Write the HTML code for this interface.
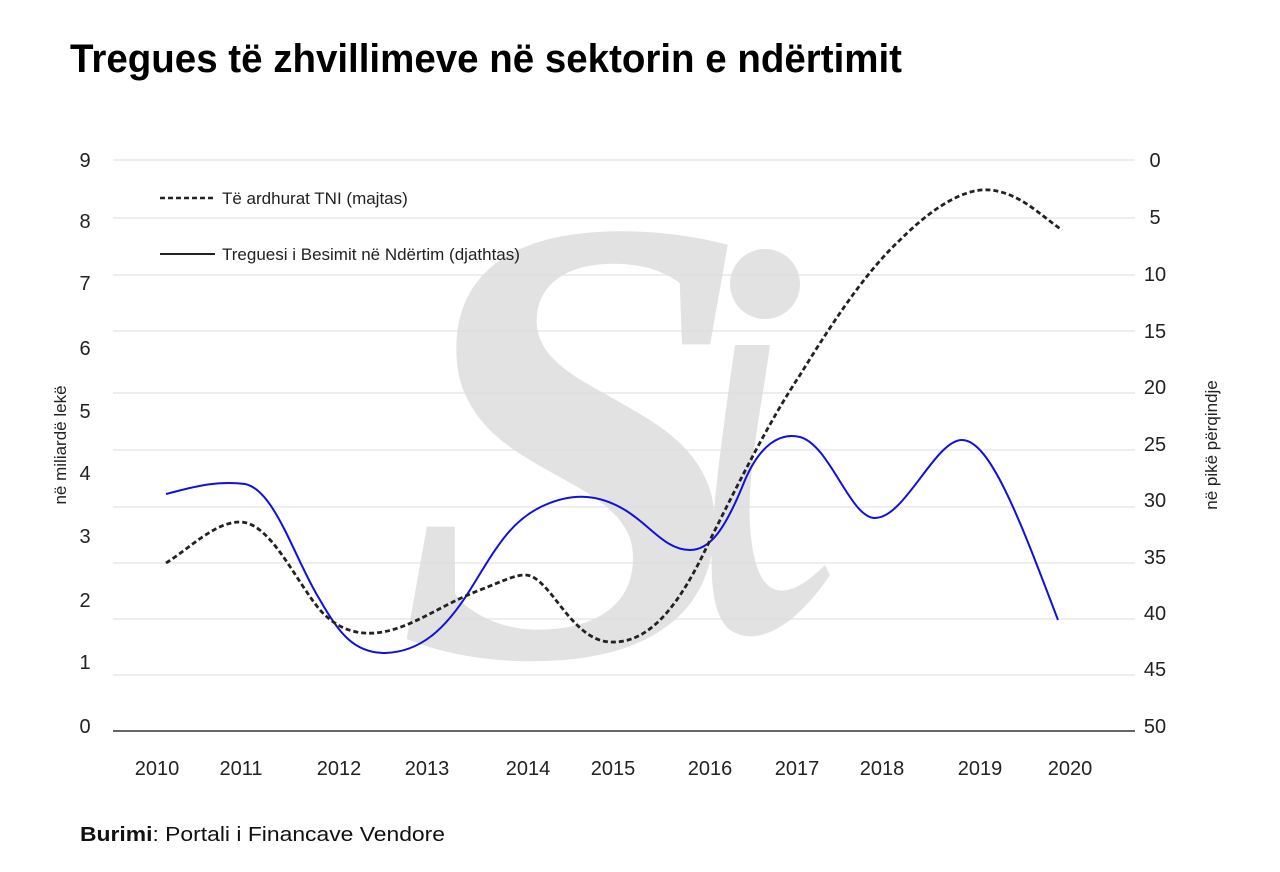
<!DOCTYPE html>
<html><head><meta charset="utf-8"><style>
html,body{margin:0;padding:0;background:#fff;}
svg{display:block;font-family:"Liberation Sans",sans-serif;}
</style></head><body>
<svg width="1280" height="872" viewBox="0 0 1280 872" xmlns="http://www.w3.org/2000/svg">
<rect width="1280" height="872" fill="#fff"/>
<g fill="#e2e2e2">
<text x="395" y="655" font-family="Liberation Serif,serif" font-style="italic" font-weight="bold" font-size="640" textLength="360" lengthAdjust="spacingAndGlyphs">S</text>
<circle cx="765" cy="284" r="35"/>
<path d="M735 345 L770 345 C760 420 740 500 755 560 C765 600 790 600 825 565 L830 575 C800 620 760 650 730 630 C700 605 710 520 735 345 Z"/>
</g>
<g stroke="#dcdcdc" stroke-width="1">
<line x1="113" y1="160" x2="1135" y2="160"/>
<line x1="113" y1="218" x2="1135" y2="218"/>
<line x1="113" y1="275" x2="1135" y2="275"/>
<line x1="113" y1="331" x2="1135" y2="331"/>
<line x1="113" y1="393" x2="1135" y2="393"/>
<line x1="113" y1="450" x2="1135" y2="450"/>
<line x1="113" y1="507" x2="1135" y2="507"/>
<line x1="113" y1="563" x2="1135" y2="563"/>
<line x1="113" y1="619" x2="1135" y2="619"/>
<line x1="113" y1="675" x2="1135" y2="675"/>
</g>
<line x1="113" y1="731" x2="1135" y2="731" stroke="#333" stroke-width="1.5"/>
<text x="70" y="72" font-size="40" font-weight="bold" fill="#000" textLength="832" lengthAdjust="spacingAndGlyphs">Tregues të zhvillimeve në sektorin e ndërtimit</text>
<g font-size="20" fill="#222" text-anchor="middle">
<text x="85" y="167">9</text><text x="85" y="228">8</text><text x="85" y="290">7</text>
<text x="85" y="355">6</text><text x="85" y="418">5</text><text x="85" y="480">4</text>
<text x="85" y="543">3</text><text x="85" y="607">2</text><text x="85" y="669">1</text>
<text x="85" y="733">0</text>
<text x="1155" y="167">0</text><text x="1155" y="224">5</text><text x="1155" y="281">10</text>
<text x="1155" y="338">15</text><text x="1155" y="394">20</text><text x="1155" y="451">25</text>
<text x="1155" y="507">30</text><text x="1155" y="564">35</text><text x="1155" y="620">40</text>
<text x="1155" y="676">45</text><text x="1155" y="733">50</text>
<text x="157" y="775">2010</text><text x="241" y="775">2011</text><text x="339" y="775">2012</text>
<text x="427" y="775">2013</text><text x="528" y="775">2014</text><text x="613" y="775">2015</text>
<text x="710" y="775">2016</text><text x="797" y="775">2017</text><text x="882" y="775">2018</text>
<text x="980" y="775">2019</text><text x="1070" y="775">2020</text>
</g>
<text transform="translate(66,445) rotate(-90)" font-size="17" text-anchor="middle" fill="#222">në miliardë lekë</text>
<text transform="translate(1217,445) rotate(-90)" font-size="17" text-anchor="middle" fill="#222">në pikë përqindje</text>
<line x1="160" y1="198" x2="215" y2="198" stroke="#222" stroke-width="2.5" stroke-dasharray="5,3"/>
<text x="222" y="204" font-size="17" fill="#222">Të ardhurat TNI (majtas)</text>
<line x1="160" y1="254" x2="215" y2="254" stroke="#222" stroke-width="2"/>
<text x="222" y="260" font-size="17" fill="#222">Treguesi i Besimit në Ndërtim (djathtas)</text>
<path fill="none" stroke="#1010e0" stroke-width="2" d="M166 494 C190 488 215 480 245 484 C275 490 295 560 320 600 C340 635 355 653 385 653 C420 652 445 630 470 590 C495 550 510 520 545 505 C575 492 600 495 625 510 C650 525 665 550 690 550 C710 550 725 530 745 480 C760 445 780 432 800 437 C830 445 850 518 875 518 C905 518 935 440 962 440 C990 440 1020 520 1058 620"/>
<path fill="none" stroke="#222" stroke-width="2.8" stroke-dasharray="5,3" d="M166 563 C190 548 215 522 240 522 C270 522 295 580 320 610 C340 632 360 634 375 633 C410 630 440 605 480 590 C505 580 515 575 525 575 C550 575 570 640 610 642 C650 644 680 605 710 540 C740 480 770 420 800 375 C840 310 870 268 900 240 C940 200 970 188 990 190 C1020 193 1040 215 1062 230"/>
<text x="80" y="841" font-size="20" fill="#111" textLength="365" lengthAdjust="spacingAndGlyphs"><tspan font-weight="bold">Burimi</tspan>: Portali i Financave Vendore</text>
</svg>
</body></html>
